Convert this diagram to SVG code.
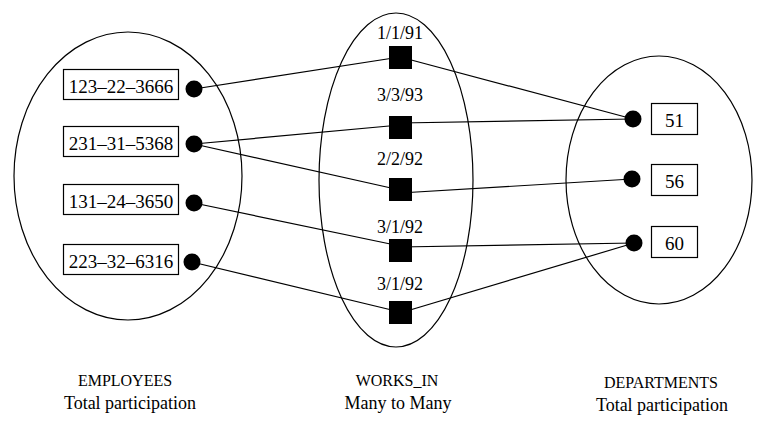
<svg xmlns="http://www.w3.org/2000/svg" width="758" height="423" viewBox="0 0 758 423">
<style>
.ell{fill:none;stroke:#000;stroke-width:1.2}
.box{fill:#fff;stroke:#000;stroke-width:1.2}
.dot{fill:#000}
.sq{fill:#000}
.ln{stroke:#000;stroke-width:1.2;fill:none}
.t{font-family:"Liberation Serif","Times New Roman",serif;fill:#000;text-anchor:middle}
.id{font-size:19px}
.dt{font-size:18px}
.cap{font-size:16px}
.sub{font-size:18px}
</style>
<rect width="758" height="423" fill="#fff"/>
<g id="sets">
<ellipse class="ell" cx="128" cy="176" rx="114" ry="144"/>
<ellipse class="ell" cx="396" cy="180" rx="77" ry="167"/>
<ellipse class="ell" cx="659" cy="180" rx="93" ry="124"/>
</g>
<g id="connectors">
<line class="ln" x1="194" y1="89" x2="400" y2="57"/>
<line class="ln" x1="194" y1="144" x2="400" y2="125"/>
<line class="ln" x1="194" y1="144" x2="400" y2="190"/>
<line class="ln" x1="194" y1="203" x2="400" y2="246"/>
<line class="ln" x1="192" y1="262" x2="400" y2="312"/>
<line class="ln" x1="400" y1="57" x2="633" y2="119"/>
<line class="ln" x1="400" y1="123" x2="633" y2="119"/>
<line class="ln" x1="400" y1="193" x2="632" y2="179"/>
<line class="ln" x1="400" y1="247" x2="634" y2="243"/>
<line class="ln" x1="400" y1="313" x2="634" y2="243"/>
</g>
<g id="emp1"><rect class="box" x="63.5" y="69.5" width="115" height="30"/><text class="t id" x="121" y="93">123–22–3666</text><circle class="dot" cx="194" cy="89" r="8.5"/></g>
<g id="emp2"><rect class="box" x="63.5" y="126.5" width="115" height="30"/><text class="t id" x="121" y="150">231–31–5368</text><circle class="dot" cx="194" cy="144" r="8.5"/></g>
<g id="emp3"><rect class="box" x="63.5" y="184.5" width="115" height="30"/><text class="t id" x="121" y="208">131–24–3650</text><circle class="dot" cx="194" cy="203" r="8.5"/></g>
<g id="emp4"><rect class="box" x="63.5" y="244.5" width="115" height="30"/><text class="t id" x="121" y="268">223–32–6316</text><circle class="dot" cx="192" cy="262" r="8.5"/></g>
<g id="w1"><rect class="sq" x="389" y="46" width="23" height="23"/><text class="t dt" x="400" y="39">1/1/91</text></g>
<g id="w2"><rect class="sq" x="389" y="116" width="23" height="23"/><text class="t dt" x="400" y="101">3/3/93</text></g>
<g id="w3"><rect class="sq" x="389" y="178" width="23" height="23"/><text class="t dt" x="400" y="165">2/2/92</text></g>
<g id="w4"><rect class="sq" x="389" y="239" width="23" height="23"/><text class="t dt" x="400" y="233">3/1/92</text></g>
<g id="w5"><rect class="sq" x="389" y="301" width="23" height="23"/><text class="t dt" x="400" y="290">3/1/92</text></g>
<g id="d51"><circle class="dot" cx="633" cy="119" r="8.5"/><rect class="box" x="651.5" y="103.5" width="46" height="31"/><text class="t id" x="674.5" y="127">51</text></g>
<g id="d56"><circle class="dot" cx="632" cy="179" r="8.5"/><rect class="box" x="651.5" y="164.5" width="46" height="31"/><text class="t id" x="674.5" y="188">56</text></g>
<g id="d60"><circle class="dot" cx="634" cy="243" r="8.5"/><rect class="box" x="651.5" y="226.5" width="46" height="31"/><text class="t id" x="674.5" y="250">60</text></g>
<g id="labels">
<text class="t cap" x="125" y="386">EMPLOYEES</text>
<text class="t sub" x="130" y="409">Total participation</text>
<text class="t cap" x="397" y="386">WORKS_IN</text>
<text class="t sub" x="398" y="409">Many to Many</text>
<text class="t cap" x="661" y="388">DEPARTMENTS</text>
<text class="t sub" x="662" y="411">Total participation</text>
</g>
</svg>
